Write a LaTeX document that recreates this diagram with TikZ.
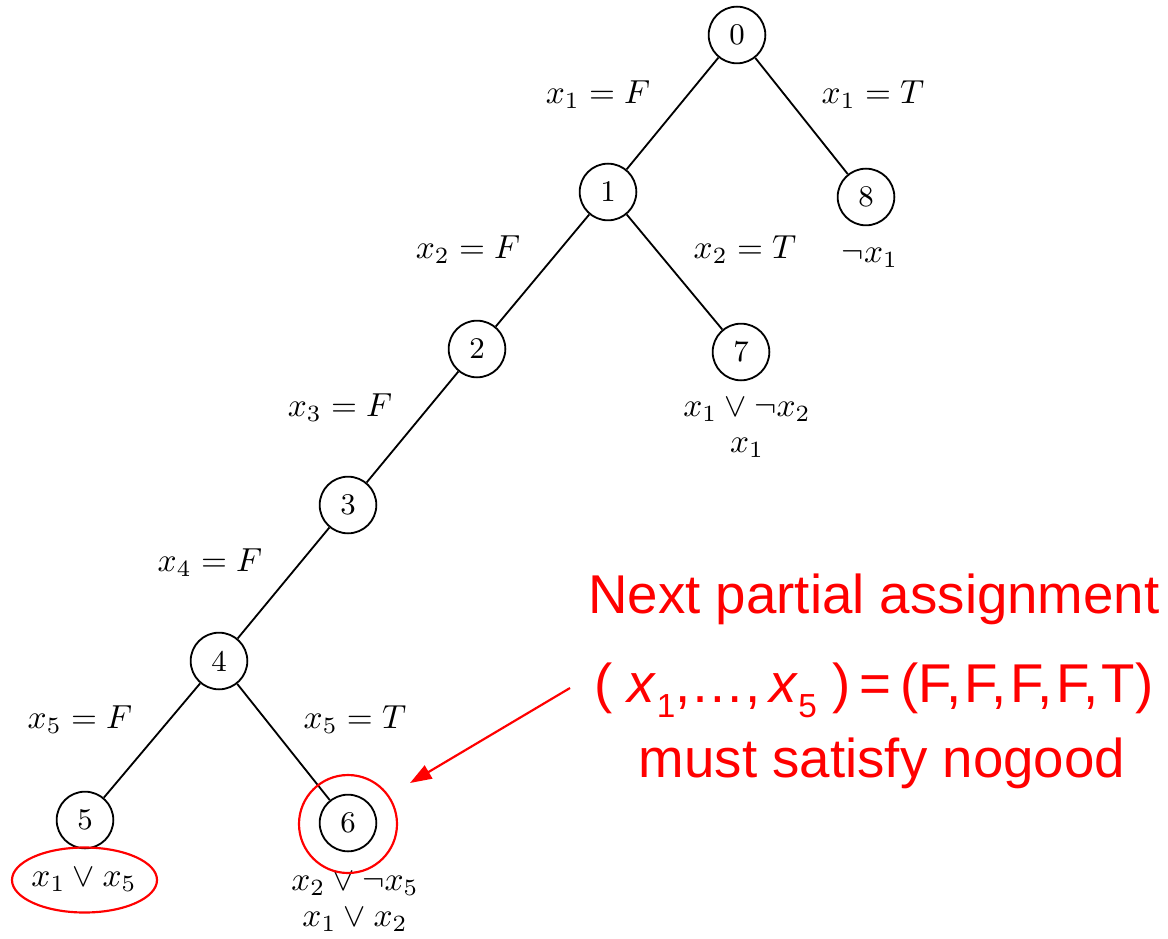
\documentclass[tikz,border=0pt]{standalone}
\usepackage{fontspec}
\newfontfamily\arialfont{Liberation Sans}
\usetikzlibrary{arrows.meta,shapes.geometric}
\newcommand{\mysubsc}[1]{\raisebox{-0.55ex}{\fontsize{10}{10}\selectfont #1}}
\newcommand{\ck}{,\kern0.06em}
\begin{document}
\begin{tikzpicture}[x=0.3pt,y=-0.3pt,
  st/.style={circle,draw,line width=0.55pt,minimum size=17pt,inner sep=0pt,font=\small},
  lab/.style={inner sep=0pt},
  edge/.style={line width=0.55pt},
  redline/.style={draw=red,line width=0.65pt},
  redtext/.style={text=red,font=\arialfont\fontsize{16.4}{19}\selectfont,anchor=base,inner sep=0pt}]
\useasboundingbox (0,0) rectangle (1168,938);

% tree nodes
\node[st] (n0) at (737,35) {0};
\node[st] (n1) at (608,192) {1};
\node[st] (n8) at (866,197) {8};
\node[st] (n2) at (477,349) {2};
\node[st] (n7) at (741,352) {7};
\node[st] (n3) at (348,505) {3};
\node[st] (n4) at (219,661) {4};
\node[st] (n5) at (85,820) {5};
\node[st] (n6) at (348,823) {6};

% edges
\draw[edge] (n0) -- (n1);
\draw[edge] (n0) -- (n8);
\draw[edge] (n1) -- (n2);
\draw[edge] (n1) -- (n7);
\draw[edge] (n2) -- (n3);
\draw[edge] (n3) -- (n4);
\draw[edge] (n4) -- (n5);
\draw[edge] (n4) -- (n6);

% edge labels
\node[lab] (l01) at (598,95) {$x_1 = F$};
\node[lab] (l08) at (873,95) {$x_1 = T$};
\node[lab] (l12) at (468,250) {$x_2 = F$};
\node[lab] (l17) at (745,250) {$x_2 = T$};
\node[lab] (l23) at (340,408) {$x_3 = F$};
\node[lab] (l34) at (210,563) {$x_4 = F$};
\node[lab] (l45) at (80,720) {$x_5 = F$};
\node[lab] (l46) at (355,720) {$x_5 = T$};

% nogood labels
\node[lab] (g8) at (870,258) {$\neg x_1$};
\node[lab] (g7a) at (747,410) {$x_1 \vee \neg x_2$};
\node[lab] (g7b) at (747,448) {$x_1$};
\node[lab] (g5) at (84,880) {$x_1 \vee x_5$};
\node[lab] (g6a) at (355,884) {$x_2 \vee \neg x_5$};
\node[lab] (g6b) at (355,920) {$x_1 \vee x_2$};

% red highlights
\node[redline,ellipse,minimum width=43.5pt,minimum height=19.5pt,inner sep=0pt] (e5) at (84.5,880) {};
\node[redline,circle,minimum size=29.4pt,inner sep=0pt] (c6) at (348,824) {};

% red text
\node[redtext] (t1) at (874,613) {Next partial assignment};
\node[redtext] (t2) at (874,702) {(\;\textit{x}\mysubsc{1},\ldots,\,\textit{x}\mysubsc{5}\;)\,=\,(F\ck F\ck F\ck F\ck T)};
\node[redtext] (t3) at (882,777) {must satisfy nogood};

% arrow
\coordinate (as) at (570,688);
\coordinate (ae) at (410,783);
\draw[redline,-{Triangle[length=6.5pt,width=4.5pt]}] (as) -- (ae);
\end{tikzpicture}
\end{document}
